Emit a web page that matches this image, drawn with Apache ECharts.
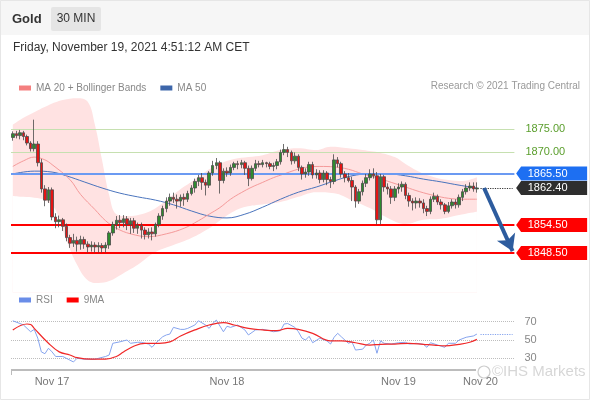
<!DOCTYPE html>
<html>
<head>
<meta charset="utf-8">
<script src="https://cdn.jsdelivr.net/npm/echarts/dist/echarts.min.js"></script>
<style>
  html, body { margin: 0; padding: 0; background: #fff; }
  #chart { width: 590px; height: 400px; }
</style>
</head>
<body>
<div id="chart"></div>
<script>
  // 30 min bars, index 0 = first bar on the left
  const cats = Array.from({ length: 141 }, (_, i) => i)
  const tickLabels = { 11: 'Nov 17', 60: 'Nov 18', 108: 'Nov 19', 131: 'Nov 20' }

  // [open, close, low, high]
  const candles = [
    [1873.2, 1874.0, 1872.5, 1874.5], [1874.0, 1873.6, 1873.0, 1874.6], [1873.6, 1874.2, 1872.8, 1874.8],
    [1874.2, 1873.4, 1872.6, 1874.6], [1873.4, 1872.0, 1871.5, 1873.8], [1872.0, 1870.8, 1870.2, 1872.4],
    [1870.8, 1871.8, 1870.2, 1877.0], [1871.8, 1867.8, 1867.0, 1872.4], [1867.8, 1862.2, 1861.4, 1868.6],
    [1862.2, 1859.8, 1858.5, 1863.0], [1859.8, 1862.0, 1859.2, 1862.6], [1862.0, 1856.2, 1855.5, 1862.5],
    [1856.2, 1855.2, 1853.8, 1857.0], [1855.2, 1855.6, 1854.0, 1856.5], [1855.6, 1854.2, 1853.2, 1856.0],
    [1854.2, 1851.8, 1851.0, 1854.8], [1851.8, 1850.6, 1849.6, 1852.4], [1850.6, 1851.2, 1849.8, 1852.6],
    [1851.2, 1850.4, 1848.8, 1852.0], [1850.4, 1851.4, 1849.2, 1852.2], [1851.4, 1850.4, 1849.4, 1852.0],
    [1850.4, 1849.8, 1848.6, 1851.0], [1849.8, 1850.2, 1848.8, 1851.0], [1850.2, 1849.8, 1848.6, 1850.8],
    [1849.8, 1850.1, 1848.6, 1850.8], [1850.1, 1849.6, 1848.6, 1850.6], [1849.6, 1850.2, 1848.6, 1850.8],
    [1850.2, 1852.8, 1849.4, 1853.2], [1852.8, 1854.6, 1852.2, 1855.2], [1854.6, 1855.5, 1853.5, 1856.4],
    [1855.5, 1855.0, 1853.8, 1856.6], [1855.0, 1855.8, 1854.0, 1856.6], [1855.8, 1854.6, 1853.4, 1856.4],
    [1854.6, 1855.4, 1852.6, 1856.0], [1855.4, 1853.8, 1852.8, 1856.0], [1853.8, 1854.4, 1852.6, 1855.0],
    [1854.4, 1853.4, 1851.6, 1855.0], [1853.4, 1852.4, 1851.4, 1854.0], [1852.4, 1853.0, 1851.6, 1853.8],
    [1853.0, 1852.6, 1851.2, 1854.0], [1852.6, 1854.6, 1852.0, 1855.0], [1854.6, 1856.4, 1854.0, 1857.0],
    [1856.4, 1858.0, 1855.6, 1858.6], [1858.0, 1859.6, 1857.2, 1860.4], [1859.6, 1860.4, 1858.6, 1861.2],
    [1860.4, 1860.0, 1859.2, 1861.4], [1860.0, 1859.6, 1858.0, 1861.0], [1859.6, 1860.4, 1858.4, 1861.0],
    [1860.4, 1860.0, 1858.6, 1861.2], [1860.0, 1861.2, 1859.4, 1861.8], [1861.2, 1862.4, 1860.8, 1863.0],
    [1862.4, 1863.8, 1861.4, 1864.4], [1863.8, 1864.6, 1862.8, 1865.2], [1864.6, 1863.6, 1862.0, 1865.6],
    [1863.6, 1863.0, 1860.8, 1864.2], [1863.0, 1865.6, 1862.4, 1866.0], [1865.6, 1867.2, 1865.0, 1868.2],
    [1867.2, 1867.8, 1866.4, 1868.8], [1867.8, 1864.0, 1861.2, 1868.2], [1864.0, 1866.0, 1863.4, 1866.6],
    [1866.0, 1865.6, 1864.8, 1866.8], [1865.6, 1866.8, 1865.0, 1867.4], [1866.8, 1867.6, 1866.2, 1868.0],
    [1867.6, 1867.4, 1866.4, 1868.2], [1867.4, 1867.8, 1866.6, 1868.4], [1867.8, 1866.6, 1865.2, 1868.2],
    [1866.6, 1864.4, 1862.8, 1867.2], [1864.4, 1866.6, 1864.0, 1867.2], [1866.6, 1867.6, 1866.0, 1868.4],
    [1867.6, 1867.4, 1866.8, 1868.2], [1867.4, 1867.8, 1866.8, 1868.4], [1867.8, 1867.6, 1866.8, 1868.0],
    [1867.6, 1867.0, 1866.4, 1868.0], [1867.0, 1867.2, 1866.0, 1867.8], [1867.2, 1868.0, 1866.4, 1868.6],
    [1868.0, 1870.0, 1867.4, 1870.6], [1870.0, 1870.6, 1869.4, 1871.8], [1870.6, 1870.0, 1869.0, 1871.2],
    [1870.0, 1868.2, 1867.4, 1870.4], [1868.2, 1869.2, 1867.6, 1870.0], [1869.2, 1866.8, 1866.0, 1869.6],
    [1866.8, 1865.4, 1864.2, 1867.2], [1865.4, 1865.8, 1864.6, 1866.6], [1865.8, 1867.4, 1865.0, 1868.0],
    [1867.4, 1865.2, 1864.4, 1868.0], [1865.2, 1865.6, 1864.4, 1866.4], [1865.6, 1864.2, 1863.4, 1866.2],
    [1864.2, 1865.6, 1863.6, 1866.2], [1865.6, 1864.2, 1863.0, 1866.0], [1864.2, 1863.8, 1862.4, 1864.8],
    [1863.8, 1868.4, 1863.2, 1869.6], [1868.4, 1867.6, 1866.8, 1869.0], [1867.6, 1865.4, 1864.6, 1868.0],
    [1865.4, 1864.6, 1863.6, 1866.0], [1864.6, 1864.0, 1863.6, 1865.6], [1864.0, 1862.6, 1859.6, 1864.8],
    [1862.6, 1859.6, 1858.2, 1863.0], [1859.6, 1861.6, 1859.0, 1862.2], [1861.6, 1863.4, 1860.8, 1864.0],
    [1863.4, 1864.6, 1862.6, 1865.4], [1864.6, 1865.4, 1864.0, 1866.4], [1865.4, 1865.0, 1864.4, 1866.6],
    [1865.0, 1855.6, 1854.6, 1865.8], [1855.6, 1864.8, 1854.6, 1865.4], [1864.8, 1862.6, 1861.6, 1865.2],
    [1862.6, 1862.2, 1861.0, 1863.4], [1862.2, 1860.4, 1859.0, 1862.8], [1860.4, 1862.2, 1859.6, 1862.8],
    [1862.2, 1862.6, 1861.2, 1863.4], [1862.6, 1863.2, 1861.6, 1863.8], [1863.2, 1860.8, 1860.0, 1863.6],
    [1860.8, 1859.6, 1858.4, 1861.4], [1859.6, 1859.2, 1857.6, 1860.2], [1859.2, 1859.6, 1858.0, 1860.4],
    [1859.6, 1859.2, 1858.2, 1860.2], [1859.2, 1858.0, 1857.0, 1860.0], [1858.0, 1857.4, 1856.4, 1858.6],
    [1857.4, 1860.0, 1856.8, 1860.6], [1860.0, 1860.6, 1859.4, 1861.4], [1860.6, 1859.4, 1858.8, 1861.0],
    [1859.4, 1858.8, 1857.8, 1860.0], [1858.8, 1857.4, 1856.8, 1859.2], [1857.4, 1858.6, 1857.0, 1859.4],
    [1858.6, 1859.4, 1858.0, 1860.0], [1859.4, 1858.8, 1858.0, 1860.0], [1858.8, 1860.4, 1858.2, 1861.0],
    [1860.4, 1861.6, 1859.6, 1862.2], [1861.6, 1862.4, 1861.0, 1863.2], [1862.4, 1862.8, 1861.8, 1863.6],
    [1862.8, 1862.2, 1861.6, 1863.6], [1862.2, 1862.4, 1861.4, 1863.6]
  ]

  // indicator lines as [bar index, value]
  const ma20 = [[0, 1867.0], [3, 1868.2], [6, 1869.0], [9, 1868.4], [11, 1867.4], [16, 1864.2], [19, 1861.0],
    [23, 1857.8], [26, 1855.4], [29, 1853.8], [33, 1852.6], [38, 1852.0], [43, 1852.6], [48, 1853.8],
    [52, 1855.4], [55, 1856.8], [58, 1858.2], [61, 1860.0], [64, 1861.4], [67, 1862.6], [70, 1863.6],
    [73, 1864.6], [76, 1865.4], [79, 1866.2], [82, 1866.8], [86, 1867.0], [90, 1866.9], [94, 1866.4],
    [98, 1865.4], [102, 1864.6], [106, 1863.6], [110, 1862.6], [114, 1861.6], [118, 1860.8], [122, 1860.2],
    [126, 1860.0], [130, 1860.0]]
  const bbUpper = [[0, 1875.9], [3, 1877.4], [6, 1878.6], [10, 1880.1], [14, 1881.2], [18, 1881.6], [21, 1880.8],
    [23, 1875.9], [25, 1868.4], [27, 1860.9], [29, 1856.8], [32, 1856.4], [37, 1857.0], [41, 1858.6],
    [46, 1861.6], [51, 1864.2], [55, 1866.4], [58, 1867.6], [62, 1868.6], [66, 1869.0], [70, 1869.4],
    [75, 1870.5], [80, 1870.9], [85, 1870.5], [89, 1871.2], [94, 1870.9], [98, 1870.5], [103, 1869.9],
    [107, 1869.0], [110, 1867.5], [114, 1865.8], [118, 1864.7], [122, 1864.1], [126, 1863.9], [130, 1864.7]]
  const bbLower = [[0, 1860.7], [3, 1860.5], [6, 1860.3], [9, 1859.8], [12, 1857.7], [15, 1851.3], [18, 1846.0],
    [21, 1842.7], [24, 1842.1], [27, 1842.5], [31, 1844.2], [35, 1846.0], [40, 1848.7], [45, 1850.2],
    [50, 1851.7], [55, 1853.8], [59, 1856.0], [64, 1858.1], [69, 1858.8], [75, 1859.4], [80, 1860.5],
    [85, 1861.5], [90, 1861.3], [95, 1859.8], [100, 1858.1], [105, 1856.0], [110, 1854.7], [115, 1855.6],
    [120, 1855.8], [125, 1856.6], [130, 1857.3]]
  const ma50 = [[0, 1865.4], [6, 1866.0], [11, 1865.8], [15, 1865.0], [20, 1863.7], [25, 1862.4], [30, 1861.3],
    [35, 1860.5], [40, 1859.8], [45, 1858.8], [50, 1857.5], [55, 1856.4], [60, 1856.0], [65, 1856.8],
    [70, 1858.3], [75, 1860.0], [80, 1861.5], [85, 1862.6], [90, 1863.9], [95, 1865.0], [100, 1865.4],
    [105, 1865.4], [110, 1865.0], [115, 1864.3], [120, 1863.7], [125, 1863.0], [130, 1862.4]]

  const rsi = [[0, 71], [2, 68], [3, 66.4], [5, 59], [6, 61.6], [7, 52], [8, 37], [9, 35], [10, 41], [11, 37],
    [12, 32], [14, 32], [16, 28], [17, 26], [18, 30], [20, 29], [23, 29], [26, 32], [27, 33.6], [28, 46.4],
    [30, 48], [31, 49], [32, 50], [33, 46.4], [35, 47.5], [36, 47.5], [38, 45.6], [39, 42], [40, 46.4],
    [42, 53.6], [43, 55.5], [44, 56.5], [45, 63.8], [47, 61.6], [48, 61.6], [49, 62.7], [51, 66.4], [52, 71],
    [54, 66.4], [55, 62.7], [56, 68], [57, 71.8], [59, 59], [60, 65], [61, 63.8], [63, 66.4], [65, 61],
    [66, 55.5], [68, 61], [70, 61.6], [72, 60.2], [73, 59], [75, 60.2], [76, 67.5], [77, 68], [79, 63.8],
    [80, 59], [81, 52], [82, 50], [83, 54], [84, 47], [86, 52], [88, 49], [89, 45.6], [90, 53], [91, 57.3],
    [92, 53.6], [94, 46.4], [95, 48], [96, 39], [98, 40], [99, 44.5], [100, 46.4], [101, 50], [102, 35.5],
    [103, 49], [104, 46.4], [106, 45.6], [108, 47], [110, 47.5], [111, 45.6], [113, 46.4], [115, 45.3],
    [116, 42], [117, 47], [119, 44.5], [121, 42], [122, 46.4], [124, 46.4], [125, 50], [127, 53], [129, 54.4],
    [130, 56.5]]
  const rsiMa9 = [[0, 60.9], [4, 67.5], [5, 67], [6, 62.7], [10, 46.4], [13, 37], [16, 33.6], [18, 30.7],
    [22, 29], [26, 29], [29, 32], [31, 37], [34, 43.5], [37, 46.4], [41, 46.4], [44, 48], [47, 54.4], [51, 61],
    [55, 66.4], [59, 69], [62, 66.4], [66, 62.7], [70, 61], [74, 60.2], [77, 62.7], [80, 61.6], [84, 57.3],
    [89, 49], [92, 49], [96, 47], [100, 44.5], [103, 45.3], [107, 45.6], [111, 46.4], [115, 45.3], [118, 44.5],
    [121, 43.5], [125, 45.3], [128, 47.5], [130, 50.7]]

  const resistances = [1875, 1870]
  const pivot = 1865.5
  const lastPrice = 1862.4
  const supports = [1854.5, 1848.5]
  const arrowTarget = 1848.9

  const FONT = '"Liberation Sans", Arial, sans-serif'
  const boxPath = 'path://M0,7 L5,0 L71,0 L71,14 L5,14 Z'

  const chart = echarts.init(document.getElementById('chart'))

  const boxPoint = (v, color) => ({
    coord: [140, v], value: v, itemStyle: { color: color }
  })

  const option = {
    animation: false,
    textStyle: { fontFamily: FONT },
    grid: [
      { left: 11, right: 75.6, top: 86.9, height: 205.9 },
      { left: 11, right: 75.6, top: 321.7, height: 36.6 }
    ],
    xAxis: [
      { gridIndex: 0, type: 'category', data: cats, show: false },
      {
        gridIndex: 1, type: 'category', data: cats, offset: 11.7,
        axisLine: { show: false }, axisTick: { show: false }, splitLine: { show: false },
        axisLabel: {
          interval: 0, margin: 6, color: '#777', fontSize: 11, fontFamily: FONT,
          formatter: (v, i) => tickLabels[i] || ''
        }
      }
    ],
    yAxis: [
      { gridIndex: 0, type: 'value', min: 1840, max: 1884, show: false },
      {
        gridIndex: 1, type: 'value', position: 'right', min: 30, max: 70, interval: 20,
        axisLine: { show: false }, axisTick: { show: false },
        axisLabel: { color: '#888', fontSize: 11, margin: 10, fontFamily: FONT },
        splitLine: { lineStyle: { type: 'dotted', color: '#bdbdbd', width: 1 } }
      }
    ],
    legend: [
      {
        data: ['MA 20 + Bollinger Bands', 'MA 50'], left: 14, top: 78, icon: 'rect',
        itemWidth: 12, itemHeight: 5, itemGap: 14,
        textStyle: { color: '#888', fontSize: 10, fontFamily: FONT }, selectedMode: false
      },
      {
        data: ['RSI', '9MA'], left: 14, top: 290, icon: 'rect',
        itemWidth: 12, itemHeight: 5, itemGap: 14,
        textStyle: { color: '#888', fontSize: 10, fontFamily: FONT }, selectedMode: false
      }
    ],
    series: [
      {
        name: 'bbUpper', type: 'line', data: bbUpper, smooth: 0.4, symbol: 'none', silent: true, z: 1,
        lineStyle: { width: 0 }, areaStyle: { color: '#ffe2e2', opacity: 1, origin: 'start' }
      },
      {
        name: 'bbLower', type: 'line', data: bbLower, smooth: 0.4, symbol: 'none', silent: true, z: 1,
        lineStyle: { width: 0 }, areaStyle: { color: '#ffffff', opacity: 1, origin: 'start' },
        markLine: {
          silent: true, symbol: ['none', 'none'],
          data: [
            ...resistances.map(v => ({
              yAxis: v, lineStyle: { color: '#c6e0b0', width: 1, type: 'solid' },
              label: { show: true, position: 'end', distance: 11, color: '#5a9e2c', fontSize: 11,
                fontFamily: FONT, formatter: p => p.value.toFixed(2) }
            })),
            { yAxis: pivot, lineStyle: { color: '#6b9af2', width: 2, type: 'solid' }, label: { show: false } },
            ...supports.map(v => ({
              yAxis: v, lineStyle: { color: '#ff0000', width: 2, type: 'solid' }, label: { show: false }
            }))
          ]
        },
        markPoint: {
          silent: true, symbol: boxPath, symbolSize: [71, 14], symbolKeepAspect: false, symbolOffset: [39, 0],
          label: { show: true, color: '#fff', fontSize: 11, fontFamily: FONT, offset: [-4, 0],
            formatter: p => p.value.toFixed(2) },
          data: [
            boxPoint(pivot, '#1d6ff2'),
            boxPoint(lastPrice, '#2e2e2e'),
            ...supports.map(v => boxPoint(v, '#ff0000'))
          ]
        }
      },
      {
        name: 'MA 50', type: 'line', data: ma50, smooth: 0.4, symbol: 'none', color: '#3d66aa', z: 3,
        lineStyle: { width: 1, color: '#4a74bd' }
      },
      {
        name: 'MA 20 + Bollinger Bands', type: 'line', data: ma20, smooth: 0.4, symbol: 'none', color: '#f47f7f', z: 3,
        lineStyle: { width: 1, color: '#f59a9a' }
      },
      {
        name: 'Gold', type: 'candlestick', data: candles, barWidth: 3, z: 5,
        itemStyle: { color: '#2e8b2e', color0: '#e51414', borderColor: '#4a4a4a', borderColor0: '#4a4a4a', borderWidth: 0.8 },
        markLine: {
          silent: true, symbol: ['none', 'none'], label: { show: false },
          data: [
            [{ coord: [131, lastPrice], lineStyle: { color: '#333', width: 1.2, type: 'dotted' } },
              { coord: [140, lastPrice] }],
            [{ coord: [132, lastPrice], symbol: 'none', lineStyle: { color: '#2d5c9e', width: 4, type: 'solid' } },
              { coord: [140, arrowTarget], symbol: 'arrow', symbolSize: [15, 16] }]
          ]
        }
      },
      {
        name: 'RSI', type: 'line', xAxisIndex: 1, yAxisIndex: 1, data: rsi, symbol: 'none', clip: false,
        color: '#6a8de8', lineStyle: { width: 1, color: '#86a4ee' },
        markLine: {
          silent: true, symbol: ['none', 'none'], label: { show: false },
          data: [[{ coord: [131, rsi[rsi.length - 1][1]], lineStyle: { color: '#86a4ee', width: 1.2, type: 'dotted' } },
            { coord: [140, rsi[rsi.length - 1][1]] }]]
        }
      },
      {
        name: '9MA', type: 'line', xAxisIndex: 1, yAxisIndex: 1, data: rsiMa9, smooth: 0.4, symbol: 'none',
        clip: false, color: '#ff0000', lineStyle: { width: 1.2, color: '#f02828' }
      }
    ],
    graphic: [
      { type: 'rect', z: -10, shape: { x: 0, y: 0, width: 590, height: 35 }, style: { fill: '#f6f6f6' } },
      { type: 'rect', z: -9, shape: { x: 51, y: 7, width: 50, height: 24, r: 2 }, style: { fill: '#e5e5e5' } },
      { type: 'text', style: { x: 12, y: 19, text: 'Gold', font: 'bold 13px ' + FONT, fill: '#333',
        textVerticalAlign: 'middle', verticalAlign: 'middle' } },
      { type: 'text', style: { x: 76, y: 19, text: '30 MIN', font: '12px ' + FONT, fill: '#333',
        textAlign: 'center', align: 'center', textVerticalAlign: 'middle', verticalAlign: 'middle' } },
      { type: 'text', style: { x: 13, y: 48, text: 'Friday, November 19, 2021 4:51:12 AM CET', font: '12px ' + FONT,
        fill: '#333', textVerticalAlign: 'middle', verticalAlign: 'middle' } },
      { type: 'text', style: { x: 580, y: 86, text: 'Research \u00a9 2021 Trading Central', font: '10px ' + FONT,
        fill: '#999', textAlign: 'right', align: 'right', textVerticalAlign: 'middle', verticalAlign: 'middle' } },
      { type: 'line', shape: { x1: 11, y1: 370, x2: 476, y2: 370 }, style: { stroke: '#bcbcbc', lineWidth: 2 } },
      { type: 'line', shape: { x1: 11.5, y1: 370, x2: 11.5, y2: 375 }, style: { stroke: '#bcbcbc', lineWidth: 1 } },
      { type: 'circle', z: 100, shape: { cx: 484, cy: 372, r: 6 }, style: { fill: 'none', stroke: 'rgba(110,110,110,0.35)', lineWidth: 1.2 } },
      { type: 'text', z: 100, style: { x: 492, y: 372, text: '\u00a9IHS Markets', font: '15px ' + FONT,
        fill: 'rgba(120,120,120,0.3)', textVerticalAlign: 'middle', verticalAlign: 'middle' } },
      { type: 'rect', z: 100, shape: { x: 0.5, y: 0.5, width: 589, height: 399 },
        style: { fill: 'none', stroke: '#e6e6e6', lineWidth: 1 } }
    ]
  }

  chart.setOption(option)
</script>
</body>
</html>
